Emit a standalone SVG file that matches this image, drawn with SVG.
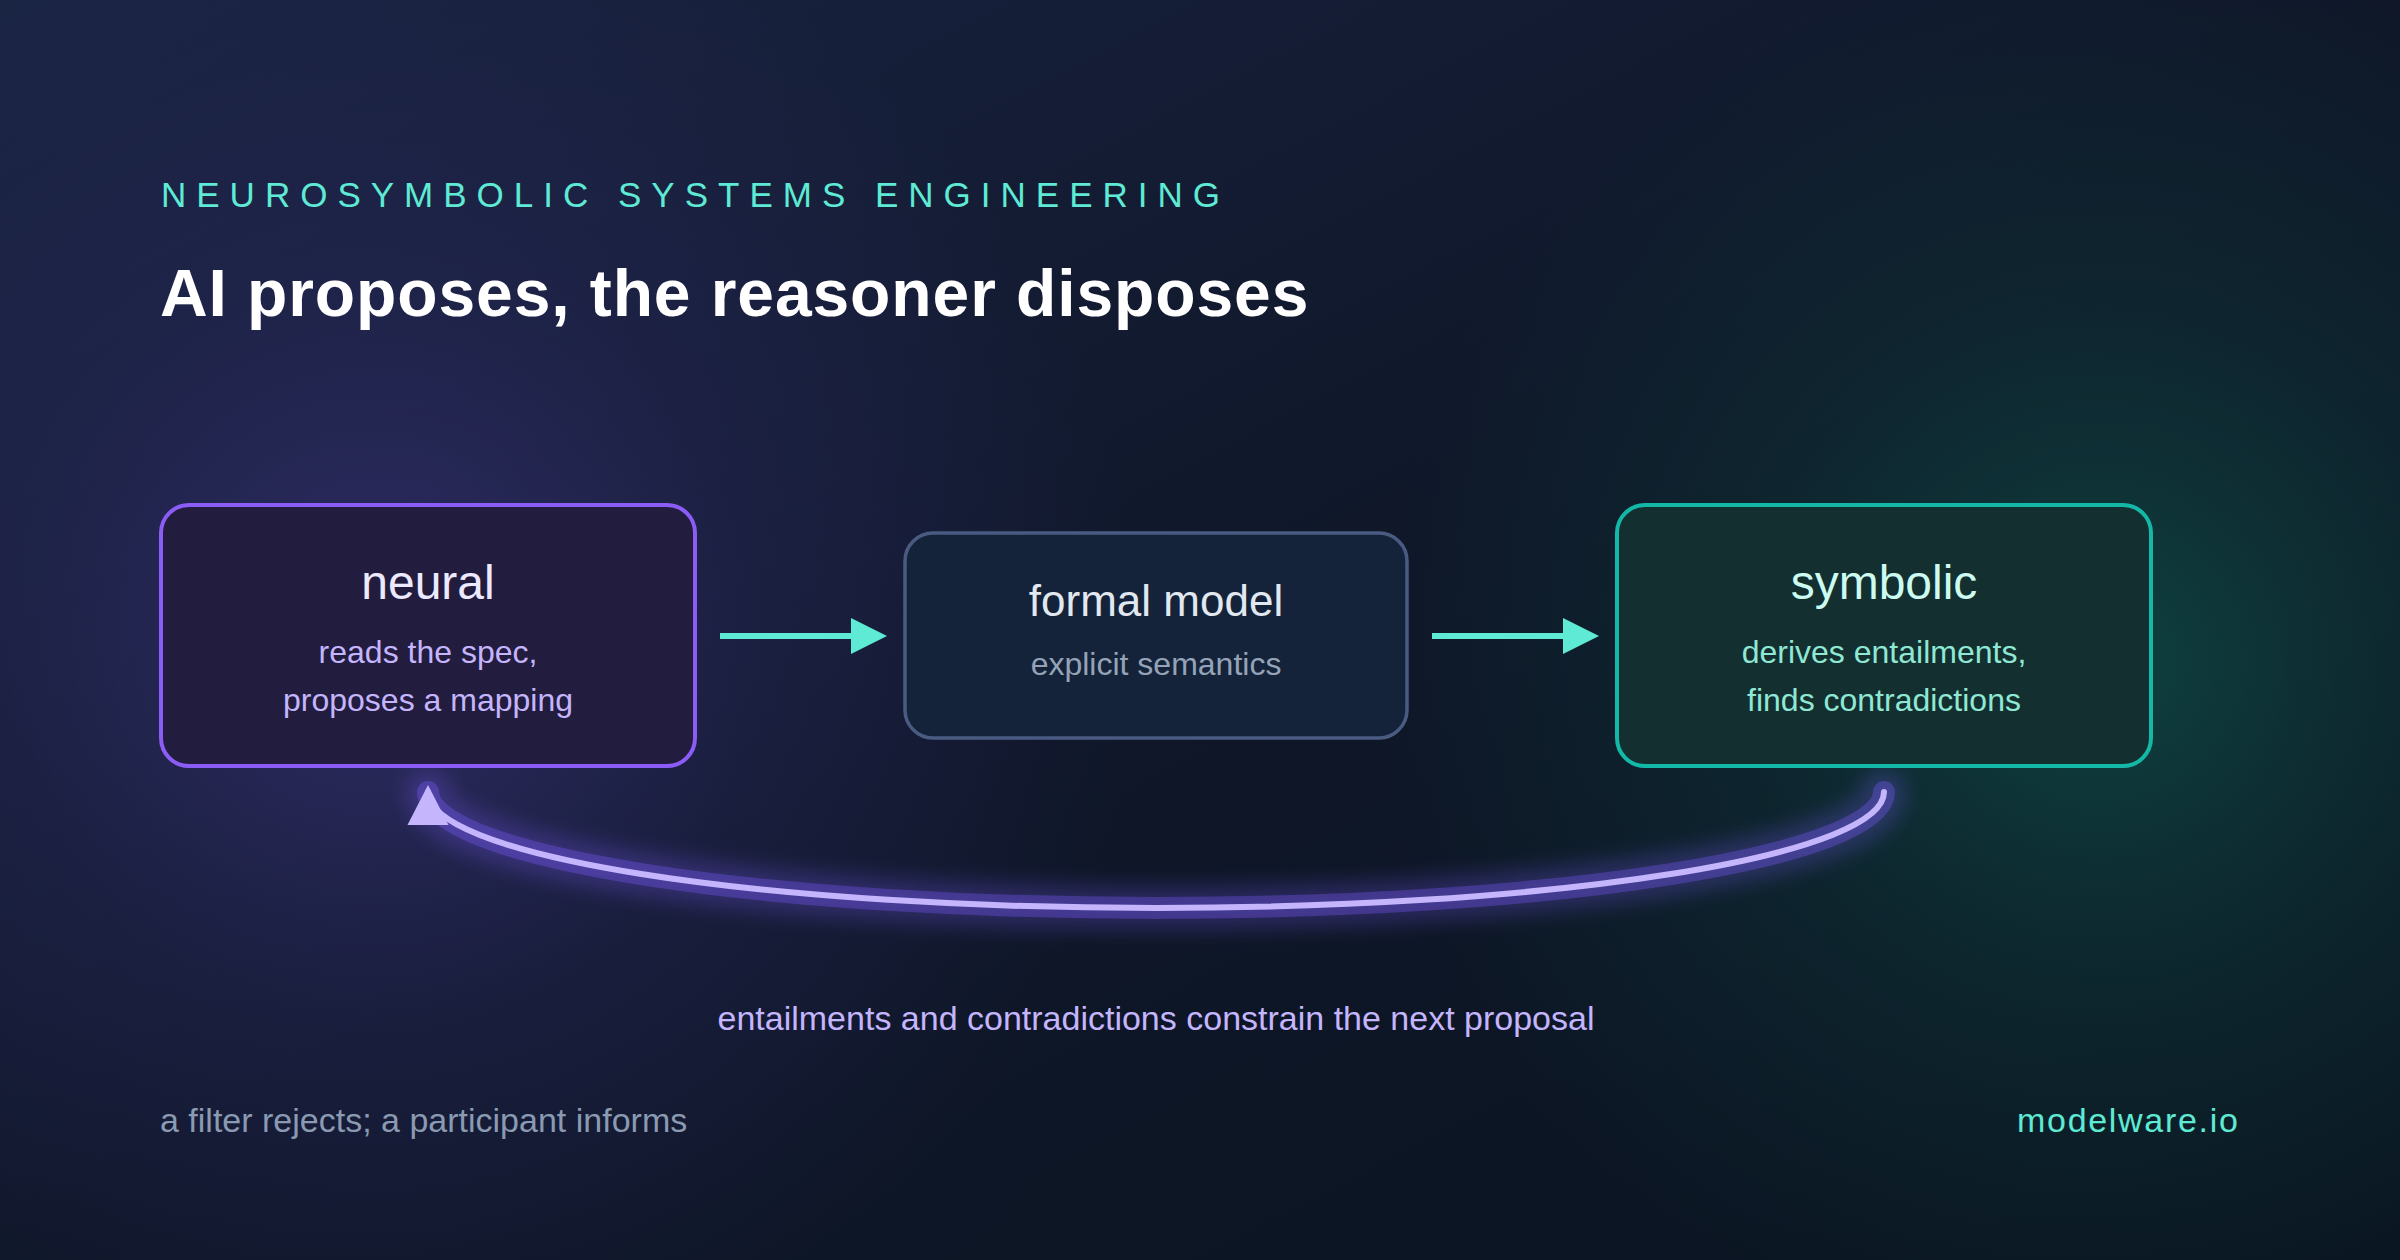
<svg xmlns="http://www.w3.org/2000/svg" width="2400" height="1260" viewBox="0 0 2400 1260">
  <defs>
    <linearGradient id="bg" x1="0" y1="0" x2="1" y2="1">
      <stop offset="0" stop-color="#1a2443"/>
      <stop offset="0.5" stop-color="#0f1729"/>
      <stop offset="1" stop-color="#0a1420"/>
    </linearGradient>
    <radialGradient id="glowL" cx="380" cy="640" r="760" gradientUnits="userSpaceOnUse">
      <stop offset="0" stop-color="#3a3378" stop-opacity="0.75"/>
      <stop offset="0.5" stop-color="#2c2a62" stop-opacity="0.35"/>
      <stop offset="1" stop-color="#2c2a62" stop-opacity="0"/>
    </radialGradient>
    <radialGradient id="glowR" cx="2100" cy="660" r="720" gradientUnits="userSpaceOnUse">
      <stop offset="0" stop-color="#0f4a45" stop-opacity="0.85"/>
      <stop offset="0.5" stop-color="#0e3a3a" stop-opacity="0.4"/>
      <stop offset="1" stop-color="#0e3a3a" stop-opacity="0"/>
    </radialGradient>
    <filter id="blur" x="-20%" y="-50%" width="140%" height="200%">
      <feGaussianBlur stdDeviation="10"/>
    </filter>
    <marker id="fbHead" markerUnits="userSpaceOnUse" markerWidth="44" markerHeight="44" refX="33" refY="20.5" orient="auto" viewBox="0 0 44 44">
      <path d="M0,0 L40,20.5 L0,41 Z" fill="#c4b5fd"/>
    </marker>
    <style>
      .sans { font-family: "Liberation Sans", Arial, sans-serif; }
      .box-title { font-size: 48px; text-anchor: middle; }
      .box-sub { font-size: 32px; text-anchor: middle; }
      .flow { stroke: #5eead4; stroke-width: 6; fill: none; }
      .flowhead { fill: #5eead4; }
    </style>
  </defs>

  <rect x="0" y="0" width="2400" height="1260" fill="url(#bg)"/>
  <rect x="0" y="0" width="2400" height="1260" fill="url(#glowL)"/>
  <rect x="0" y="0" width="2400" height="1260" fill="url(#glowR)"/>

  <g id="header" class="sans">
    <text x="161" y="207" font-size="35" letter-spacing="10" fill="#5eead4">NEUROSYMBOLIC SYSTEMS ENGINEERING</text>
    <text x="160" y="316" font-size="66" font-weight="bold" letter-spacing="0.9" fill="#ffffff">AI proposes, the reasoner disposes</text>
  </g>

  <g id="connectors">
    <line class="flow" x1="720" y1="636" x2="853" y2="636"/>
    <polygon class="flowhead" points="851,618 887,636 851,654"/>
    <line class="flow" x1="1432" y1="636" x2="1565" y2="636"/>
    <polygon class="flowhead" points="1563,618 1599,636 1563,654"/>
    <g id="feedback">
      <path d="M 1884 792 A 728 116 0 0 1 428 792" fill="none" stroke="#7c5cff" stroke-opacity="0.25" stroke-width="44" stroke-linecap="round" filter="url(#blur)"/>
      <path d="M 1884 792 A 728 116 0 0 1 428 792" fill="none" stroke="#7c5cff" stroke-opacity="0.32" stroke-width="22" stroke-linecap="round"/>
      <path d="M 1884 792 A 728 116 0 0 1 428 792" fill="none" stroke="#c4b5fd" stroke-width="6" stroke-linecap="round" marker-end="url(#fbHead)"/>
    </g>
  </g>

  <g id="node-neural" class="sans">
    <rect x="161" y="505" width="534" height="261" rx="28" fill="#221c3e" stroke="#8b5cf6" stroke-width="4"/>
    <text class="box-title" x="428" y="599" fill="#ede9fe">neural</text>
    <text class="box-sub" x="428" y="663" fill="#c4b5fd">reads the spec,</text>
    <text class="box-sub" x="428" y="711" fill="#c4b5fd">proposes a mapping</text>
  </g>

  <g id="node-formal" class="sans">
    <rect x="905" y="533" width="502" height="205" rx="28" fill="#142339" stroke="#4a5b82" stroke-width="3.5"/>
    <text class="box-title" x="1156" y="616" fill="#e2e8f0" style="font-size:44px">formal model</text>
    <text class="box-sub" x="1156" y="675" fill="#94a3b8">explicit semantics</text>
  </g>

  <g id="node-symbolic" class="sans">
    <rect x="1617" y="505" width="534" height="261" rx="28" fill="#132f30" stroke="#14b8a6" stroke-width="4"/>
    <text class="box-title" x="1884" y="599" fill="#ccfbf1">symbolic</text>
    <text class="box-sub" x="1884" y="663" fill="#8fe8d4">derives entailments,</text>
    <text class="box-sub" x="1884" y="711" fill="#8fe8d4">finds contradictions</text>
  </g>

  <g id="labels" class="sans">
    <text x="1156" y="1030" font-size="34" text-anchor="middle" fill="#c4b5fd">entailments and contradictions constrain the next proposal</text>
    <text x="160" y="1132" font-size="34" fill="#8a9ab2">a filter rejects; a participant informs</text>
    <text x="2017" y="1132" font-size="34" letter-spacing="1.7" fill="#5eead4">modelware.io</text>
  </g>
</svg>
